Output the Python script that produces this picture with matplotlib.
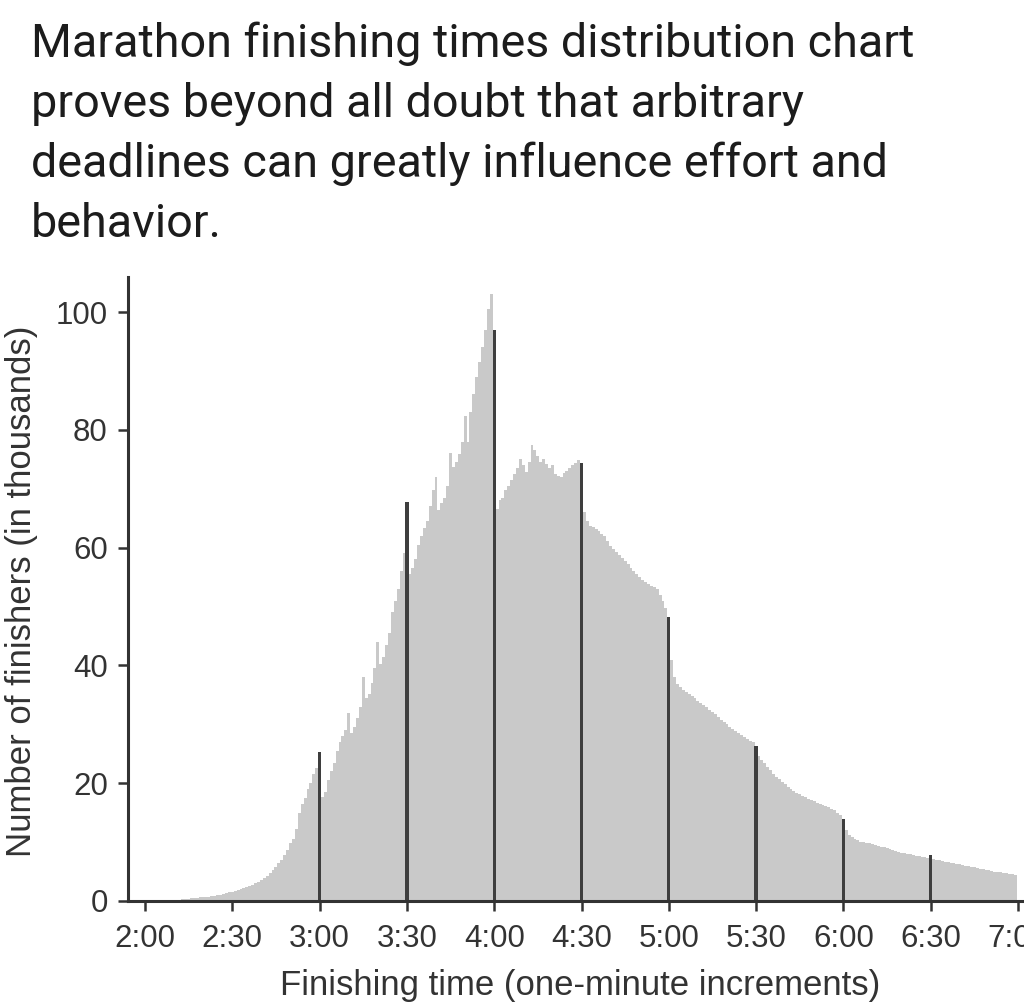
import matplotlib
matplotlib.use("Agg")
import matplotlib.pyplot as plt
import numpy as np

# ---- data: finishers (thousands) per one-minute bin, starting at 2:00 ----
seg_200 = [0.0, 0.05, 0.05, 0.05, 0.1, 0.1, 0.1, 0.1, 0.15, 0.15, 0.2, 0.2, 0.25, 0.3, 0.35,
           0.4, 0.45, 0.5, 0.55, 0.6, 0.65, 0.7, 0.75, 0.8, 0.9, 1.0, 1.1, 1.2, 1.3, 1.45]
seg_230 = [1.6, 1.7, 1.85, 2.0, 2.2, 2.4, 2.6, 2.8, 3.0, 3.3, 3.6, 3.9, 4.3, 4.7, 5.2,
           5.8, 6.4, 7.0, 7.8, 8.6, 9.8, 10.6, 12.3, 15.0, 16.5, 17.5, 19.0, 20.0, 21.5, 22.5]
seg_300 = [25.3, 17.6, 18.5, 20.5, 22.0, 23.5, 25.5, 27.0, 28.0, 29.0, 32.0, 28.5, 29.5, 31.0, 33.0,
           38.0, 34.5, 35.2, 37.0, 39.5, 44.0, 40.3, 41.5, 43.5, 45.5, 49.0, 51.0, 53.0, 56.0, 59.0]
seg_330 = [67.7, 55.6, 56.5, 58.0, 60.5, 62.0, 63.4, 64.5, 67.0, 69.7, 72.0, 66.3, 67.5, 68.5, 70.5,
           76.0, 73.6, 74.5, 75.9, 78.0, 82.4, 78.0, 83.0, 86.0, 89.0, 91.5, 94.0, 97.0, 100.5, 103.0]
seg_400 = [97.0, 66.5, 68.0, 68.5, 69.7, 70.5, 71.5, 72.5, 73.5, 75.0, 74.0, 72.8, 74.5, 77.5, 76.5,
           75.5, 74.5, 75.0, 74.2, 73.5, 74.0, 72.5, 72.2, 72.0, 72.6, 73.0, 73.5, 74.0, 74.4, 74.8]
seg_430 = [74.4, 66.0, 64.5, 63.7, 63.5, 63.2, 62.8, 62.3, 62.0, 61.2, 60.3, 59.8, 59.2, 58.8, 58.3,
           57.8, 57.2, 56.6, 56.0, 55.5, 55.0, 54.5, 54.1, 53.8, 53.5, 53.3, 53.0, 52.0, 51.0, 49.8]
seg_500 = [48.3, 41.0, 38.0, 36.8, 36.3, 35.9, 35.5, 35.2, 34.8, 34.4, 34.0, 33.6, 33.2, 32.9, 32.5,
           32.1, 31.7, 31.2, 30.8, 30.4, 30.0, 29.6, 29.2, 28.8, 28.5, 28.1, 27.8, 27.5, 27.2, 27.0]
seg_530 = [26.3, 24.6, 24.0, 23.4, 22.8, 22.2, 21.6, 21.1, 20.7, 20.2, 19.8, 19.4, 19.0, 18.7, 18.4,
           18.1, 17.8, 17.6, 17.3, 17.1, 16.9, 16.7, 16.5, 16.3, 16.1, 15.9, 15.7, 15.4, 15.0, 14.6]
seg_600 = [14.0, 12.0, 11.2, 10.8, 10.5, 10.3, 10.1, 10.0, 9.9, 9.8, 9.6, 9.5, 9.4, 9.2, 9.1,
           9.0, 8.8, 8.7, 8.5, 8.4, 8.2, 8.1, 8.0, 7.9, 7.8, 7.7, 7.6, 7.5, 7.4, 7.3]
seg_630 = [7.8, 7.1, 7.0, 6.9, 6.8, 6.7, 6.6, 6.5, 6.4, 6.3, 6.2, 6.1, 6.0, 5.9, 5.8,
           5.7, 5.6, 5.5, 5.4, 5.3, 5.2, 5.1, 5.0, 4.9, 4.85, 4.8, 4.7, 4.6, 4.5, 4.4]

tick_minutes = [120, 150, 180, 210, 240, 270, 300, 330, 360, 390, 420]
tick_labels = ["2:00", "2:30", "3:00", "3:30", "4:00", "4:30", "5:00", "5:30", "6:00", "6:30", "7:00"]
highlight_minutes = [180, 210, 240, 270, 300, 330, 360, 390]
y_ticks = [0, 20, 40, 60, 80, 100]

title_lines = ["Marathon finishing times distribution chart",
               "proves beyond all doubt that arbitrary",
               "deadlines can greatly influence effort and",
               "behavior."]

counts = np.array(seg_200 + seg_230 + seg_300 + seg_330 + seg_400 +
                  seg_430 + seg_500 + seg_530 + seg_600 + seg_630)
minutes = 120 + np.arange(len(counts))

W, H = 1024, 1008
fig = plt.figure(figsize=(W / 100, H / 100), dpi=100)
fig.patch.set_facecolor("white")

# title lines
for k, line in enumerate(title_lines):
    fig.text(31 / W, 1 - (57 + 60 * k) / H, line, fontsize=33.7, family="Roboto",
             color="#1c1c1c", ha="left", va="baseline")

# axes placement (pixel-based)
left_px, right_px, bottom_px, top_px = 128, 1024, 901, 277
ax = fig.add_axes([left_px / W, 1 - bottom_px / H, (right_px - left_px) / W,
                   (bottom_px - top_px) / H])

px_per_min = 2.91
x0 = 120 - (145 - left_px) / px_per_min
x1 = x0 + (right_px - left_px) / px_per_min
ax.set_xlim(x0, x1)
px_per_k = 5.89
ax.set_ylim(0, (bottom_px - top_px) / px_per_k)

ax.bar(minutes, counts, width=1.0, color="#c9c9c9", edgecolor="none", align="center", zorder=1)
hl_mask = np.isin(minutes, highlight_minutes)
ax.bar(minutes[hl_mask], counts[hl_mask], width=1.15, color="#3e3e3e", edgecolor="none",
       align="center", zorder=2)

for side in ["top", "right"]:
    ax.spines[side].set_visible(False)
for side in ["left", "bottom"]:
    ax.spines[side].set_linewidth(2.2)
    ax.spines[side].set_color("#333333")
    ax.spines[side].set_zorder(3)

ax.set_xticks(tick_minutes)
ax.set_xticklabels(tick_labels)
ax.set_yticks(y_ticks)
ax.tick_params(axis="both", direction="out", length=7.5, width=1.8, color="#333333",
               labelsize=22.5, labelcolor="#333333")
ax.tick_params(axis="y", pad=7)
ax.tick_params(axis="x", pad=9)
for lab in ax.get_xticklabels() + ax.get_yticklabels():
    lab.set_family("Liberation Sans")

ax.set_xlabel("Finishing time (one-minute increments)", fontsize=25, family="Liberation Sans",
              color="#333333")
ax.xaxis.set_label_coords((580 - left_px) / (right_px - left_px), -(985 - bottom_px) / (bottom_px - top_px))
ax.xaxis.label.set_va("center")
ax.set_ylabel("Number of finishers (in thousands)", fontsize=25, family="Liberation Sans",
              color="#333333")
ax.yaxis.set_label_coords(-(left_px - 22) / (right_px - left_px), (bottom_px - 591) / (bottom_px - top_px))
ax.yaxis.label.set_va("center")

fig.savefig("out.png", dpi=100, facecolor="white")
